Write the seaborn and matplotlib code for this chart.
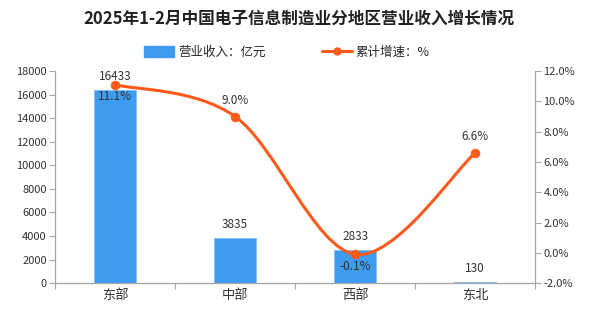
import matplotlib
matplotlib.use("Agg")
import matplotlib.pyplot as plt
import seaborn as sns
import pandas as pd
import numpy as np
from matplotlib.path import Path
from matplotlib.patches import PathPatch
from matplotlib.lines import Line2D
from matplotlib.patches import Patch

regions = ["东部", "中部", "西部", "东北"]
revenue = [16433, 3835, 2833, 130]
growth = [11.1, 9.0, -0.1, 6.6]
left_ticks = [0, 2000, 4000, 6000, 8000, 10000, 12000, 14000, 16000, 18000]
right_ticks = [-2, 0, 2, 4, 6, 8, 10, 12]
title = "2025年1-2月中国电子信息制造业分地区营业收入增长情况"
bar_label = "营业收入：亿元"
line_label = "累计增速：%"

sns.set_theme(style="white")
plt.rcParams['font.family'] = ['Noto Sans CJK SC', 'DejaVu Sans']

BAR = "#3D9BF0"
LINE = "#FF5A1A"
GRAY = "#A6A6A6"
TXT = "#333333"

df = pd.DataFrame({"region": regions, "revenue": revenue, "growth": growth})

fig = plt.figure(figsize=(5.98, 3.16), dpi=100)
ax = fig.add_axes([0.092, 0.104, 0.803, 0.671])
sns.barplot(data=df, x="region", y="revenue", color=BAR, width=0.35, ax=ax,
            saturation=1, edgecolor="#7FC0F7", linewidth=0.6)
ax.set_xlim(-0.5, 3.5)
ax.set_ylim(0, 18000)
ax.set_yticks(left_ticks)
ax.set_yticklabels([str(t) for t in left_ticks], fontsize=8, color=TXT)
ax.set_xlabel("")
ax.set_ylabel("")
ax.tick_params(axis="x", length=0, labelsize=9.5, colors=TXT, pad=4)
ax.tick_params(axis="y", length=4, width=0.8, color=GRAY, direction="out", left=True, pad=2)
ax.set_xticks(np.arange(-0.5, 4.0, 1.0), minor=True)
ax.tick_params(axis="x", which="minor", length=4, width=0.8, color=GRAY, bottom=True, direction="out")
for s in ["top", "right"]:
    ax.spines[s].set_visible(False)
for s in ["left", "bottom"]:
    ax.spines[s].set_color(GRAY)
    ax.spines[s].set_linewidth(0.9)

for i, v in enumerate(revenue):
    ax.annotate(str(v), (i, v), xytext=(0, 5), textcoords="offset points",
                ha="center", va="bottom", fontsize=8.5, color=TXT)

ax2 = ax.twinx()
ax2.set_ylim(-2, 12)
ax2.set_yticks(right_ticks)
ax2.set_yticklabels([f"{t:.1f}%" for t in right_ticks], fontsize=8, color=TXT)
ax2.tick_params(axis="y", length=4, width=0.8, color=GRAY, direction="out", right=True, pad=2)
for s in ["top", "left", "bottom"]:
    ax2.spines[s].set_visible(False)
ax2.spines["right"].set_color(GRAY)
ax2.spines["right"].set_linewidth(0.9)

# smooth curve (Catmull-Rom as cubic Bezier)
xs = np.arange(len(growth), dtype=float)
ys = np.array(growth, dtype=float)
P = np.column_stack([xs, ys])
Pe = np.vstack([P[0], P, P[-1]])
verts = [tuple(P[0])]
codes = [Path.MOVETO]
for i in range(len(P) - 1):
    p0, p1, p2, p3 = Pe[i], Pe[i + 1], Pe[i + 2], Pe[i + 3]
    c1 = p1 + (p2 - p0) / 6.0
    c2 = p2 - (p3 - p1) / 6.0
    verts += [tuple(c1), tuple(c2), tuple(p2)]
    codes += [Path.CURVE4] * 3
ax2.add_patch(PathPatch(Path(verts, codes), facecolor="none", edgecolor=LINE, lw=2.2, zorder=5))
sns.scatterplot(x=xs, y=ys, color=LINE, s=40, edgecolor=LINE, ax=ax2, zorder=6, legend=False)

offsets = [(0, -4, "top"), (0, 7, "bottom"), (0, -4, "top"), (0, 7, "bottom")]
for i, g in enumerate(growth):
    dx, dy, va = offsets[i]
    ax2.annotate(f"{g:.1f}%", (i, g), xytext=(dx, dy), textcoords="offset points",
                 ha="center", va=va, fontsize=8.5, color=TXT, zorder=7)

fig.text(0.5, 0.94, title, ha="center", va="center", fontsize=12, fontweight="bold", color="#222222")

handles = [Patch(facecolor=BAR, edgecolor=BAR),
           Line2D([0], [0], color=LINE, lw=2.2, marker="o", markersize=5)]
fig.legend(handles, [bar_label, line_label], loc="center", bbox_to_anchor=(0.48, 0.835),
           ncol=2, frameon=False, fontsize=9, handlelength=2.4, handleheight=0.9,
           columnspacing=4.5, handletextpad=0.3)

fig.savefig("out.png", dpi=100)
